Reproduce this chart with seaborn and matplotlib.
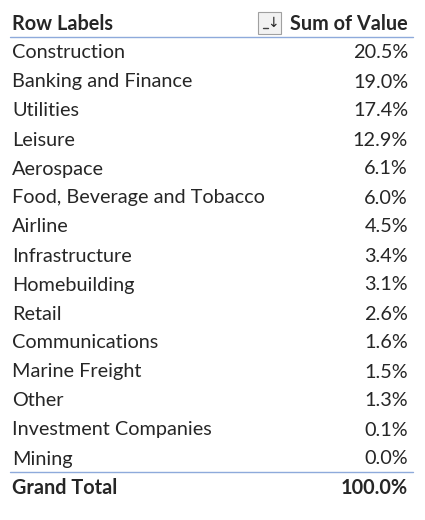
import matplotlib
matplotlib.use("Agg")
import matplotlib.pyplot as plt
import seaborn as sns
from matplotlib.patches import Rectangle

categories = ["Construction", "Banking and Finance", "Utilities", "Leisure", "Aerospace",
              "Food, Beverage and Tobacco", "Airline", "Infrastructure", "Homebuilding",
              "Retail", "Communications", "Marine Freight", "Other",
              "Investment Companies", "Mining"]
values = [20.5, 19.0, 17.4, 12.9, 6.1, 6.0, 4.5, 3.4, 3.1, 2.6, 1.6, 1.5, 1.3, 0.1, 0.0]
total_label = "Grand Total"
total_value = 100.0
header = ["Row Labels", "Sum of Value"]

sns.set_theme(style="white")
plt.rcParams['font.family'] = ['Lato', 'DejaVu Sans']

fig = plt.figure(figsize=(4.25, 5.2), dpi=100)
ax = fig.add_axes([0, 0, 1, 1])
ax.set_xlim(0, 425)
ax.set_ylim(520, 0)
ax.axis("off")

fs = 14.3
xl, xr = 12, 408
ax.text(xl, 24, header[0], fontsize=fs, fontweight="bold", va="center", ha="left")
ax.text(xr, 24, header[1], fontsize=fs, fontweight="bold", va="center", ha="right")
ax.add_patch(Rectangle((258, 12), 23, 22, facecolor="#f2f2f2", edgecolor="#a0a0a0", lw=0.8))
ax.text(273, 23, "\u2193", fontsize=10, va="center", ha="center", family=["DejaVu Sans"])
ax.plot([263, 268], [28, 28], color="#404040", lw=1)
ax.plot([10, 413], [37, 37], color="#8eaadb", lw=1)

y0, dy = 53, 29
for i, (c, v) in enumerate(zip(categories, values)):
    y = y0 + i * dy
    ax.text(xl, y, c, fontsize=fs, va="center", ha="left")
    ax.text(xr, y, f"{v:.1f}%", fontsize=fs, va="center", ha="right")

yt = y0 + len(categories) * dy
ax.plot([10, 413], [472, 472], color="#8eaadb", lw=1)
ax.text(xl, yt, total_label, fontsize=fs, fontweight="bold", va="center", ha="left")
ax.text(xr, yt, f"{total_value:.1f}%", fontsize=fs, fontweight="bold", va="center", ha="right")

fig.savefig("out.png", dpi=100, facecolor="white")
